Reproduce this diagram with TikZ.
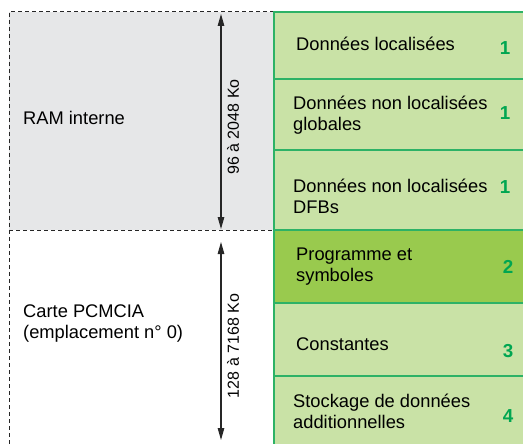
\documentclass[tikz,border=0pt]{standalone}
\usepackage{fontspec}
\setmainfont{Liberation Sans}
\usetikzlibrary{arrows.meta}
\definecolor{ramgray}{HTML}{E6E7E8}
\definecolor{lgreen}{HTML}{C9E2A6}
\definecolor{dgreen}{HTML}{99CA4E}
\definecolor{bgreen}{HTML}{2DB266}
\definecolor{ngreen}{HTML}{00A651}
\tikzset{
  cell/.style={draw=bgreen, line width=1.1pt, fill=lgreen},
  lbl/.style={anchor=west, inner sep=0pt, align=left, font=\fontsize{18.3}{21}\selectfont},
  num/.style={inner sep=0pt, text=ngreen, font=\fontsize{18.8}{21}\selectfont\bfseries},
  dim/.style={inner sep=0pt, rotate=90, font=\fontsize{16}{19}\selectfont},
  dashline/.style={draw=black!85, line width=1pt, dash pattern=on 4pt off 3pt},
  dimarrow/.style={draw=black!85, line width=1.1pt, {Triangle[length=12pt,width=6.5pt]}-{Triangle[length=12pt,width=6.5pt]}}
}
\begin{document}
\begin{tikzpicture}[x=1pt,y=-1pt]
\useasboundingbox (0,0) rectangle (523,444);
\clip (0,0) rectangle (523,444);
% gray RAM area
\fill[ramgray] (9,12) rectangle (274,230);
\draw[dashline] (274,12) -- (9,12) -- (9,450);
\draw[dashline] (9,230) -- (274,230);
% green column
\draw[cell] (274,12) rectangle (530,79);
\draw[cell] (274,79) rectangle (530,150);
\draw[cell] (274,150) rectangle (530,230);
\draw[cell] (274,303) rectangle (530,376);
\draw[cell] (274,376) rectangle (530,450);
\draw[cell, fill=dgreen] (274,230) rectangle (530,303);
% texts left
\node[lbl] (ram) at (23,118) {RAM interne};
\node[lbl] (pcm) at (23,324) {Carte PCMCIA\\(emplacement n° 0)};
% arrows
\coordinate (a1t) at (221,14);
\coordinate (a1b) at (221,229);
\coordinate (a2t) at (221,242);
\coordinate (a2b) at (221,440);
\draw[dimarrow] (a1t) -- (a1b);
\draw[dimarrow] (a2t) -- (a2b);
\node[dim] (d1) at (233,127) {96 à 2048 Ko};
\node[dim] (d2) at (233,346) {128 à 7168 Ko};
% green texts
\node[lbl] (t1) at (296,44) {Données localisées};
\node[num] (n1) at (505,48) {1};
\node[lbl] (t2) at (293,115) {Données non localisées\\globales};
\node[num] (n2) at (505,113) {1};
\node[lbl] (t3) at (293,196) {Données non localisées\\DFBs};
\node[num] (n3) at (505,187) {1};
\node[lbl] (t4) at (296,267) {Programme et\\symboles};
\node[num] (n4) at (508,267) {2};
\node[lbl] (t5) at (296,344) {Constantes};
\node[num] (n5) at (508,351) {3};
\node[lbl] (t6) at (293,411) {Stockage de données\\additionnelles};
\node[num] (n6) at (508,416) {4};
\end{tikzpicture}
\end{document}
